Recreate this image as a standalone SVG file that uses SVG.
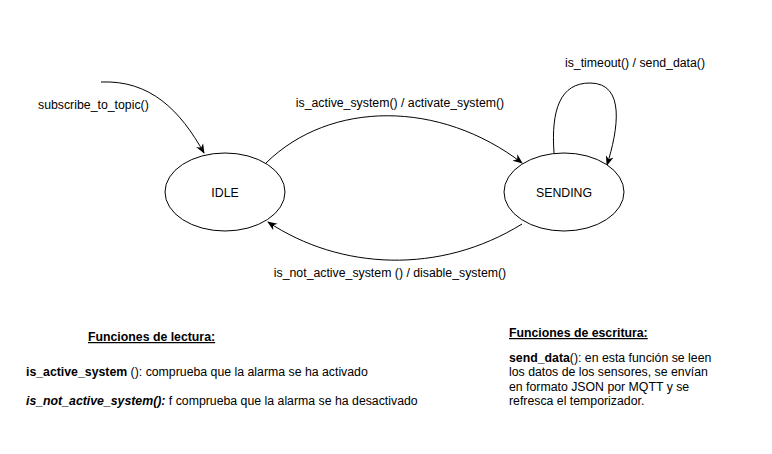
<svg xmlns="http://www.w3.org/2000/svg" width="772" height="454" viewBox="0 0 772 454">
<style>
text{font-family:"Liberation Sans",Arial,sans-serif;font-size:12.3px;fill:#000}
.st{fill:#fff;stroke:#000;stroke-width:1}
.e{fill:none;stroke:#000;stroke-width:1;marker-end:url(#a)}
.b{font-weight:bold}
.u{text-decoration:underline}
</style>
<defs>
<marker id="a" viewBox="0 0 10 10" refX="9" refY="5" markerWidth="10" markerHeight="10" markerUnits="userSpaceOnUse" orient="auto">
<path d="M0,1 L10,5 L0,9 L3,5 Z" fill="#000"/>
</marker>
</defs>
<rect width="772" height="454" fill="#fff"/>
<g id="connectors">
<path class="e" d="M101,82 C150,80 180,110 204,153"/>
<path class="e" d="M266,163 C330,100 440,100 522,163"/>
<path class="e" d="M522,224 C440,275 340,270 268,222"/>
<path class="e" d="M554,153 C551,110 560,83 590,83 C626,83 618,130 607,165"/>
</g>
<g id="labels">
<text x="38" y="109">subscribe_to_topic()</text>
<text x="400" y="107" text-anchor="middle">is_active_system() / activate_system()</text>
<text x="635" y="67" text-anchor="middle">is_timeout() / send_data()</text>
<text x="390" y="277" text-anchor="middle">is_not_active_system () / disable_system()</text>
</g>
<g id="idle">
<ellipse class="st" cx="225" cy="192" rx="60" ry="39"/>
<text x="225" y="197" text-anchor="middle">IDLE</text>
</g>
<g id="sending">
<ellipse class="st" cx="564" cy="192" rx="60" ry="39"/>
<text x="564" y="197" text-anchor="middle">SENDING</text>
</g>
<g id="lectura">
<text x="88" y="341" class="b u">Funciones de lectura:</text>
<text x="26" y="376"><tspan class="b">is_active_system</tspan> (): comprueba que la alarma se ha activado</text>
<text x="26" y="405"><tspan class="b" font-style="italic">is_not_active_system():</tspan> f comprueba que la alarma se ha desactivado</text>
</g>
<g id="escritura">
<text x="509" y="337" class="b u">Funciones de escritura:</text>
<text x="509" y="362"><tspan class="b">send_data</tspan>(): en esta función se leen</text>
<text x="509" y="376">los datos de los sensores, se envían</text>
<text x="509" y="391">en formato JSON por MQTT y se</text>
<text x="509" y="405">refresca el temporizador.</text>
</g>
</svg>
